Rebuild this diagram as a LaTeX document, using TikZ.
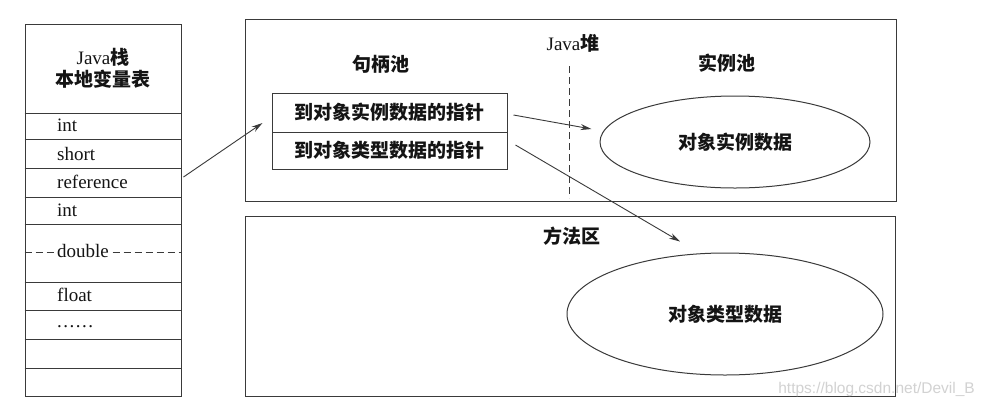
\documentclass[tikz,border=0pt]{standalone}
\usepackage{fontspec}
\setmainfont{Liberation Serif}
\newfontfamily\cjk{Noto Sans CJK SC}
\newfontfamily\wmfont{Liberation Sans}
\usetikzlibrary{arrows.meta,calc,shapes.geometric}
\definecolor{ln}{HTML}{3A3A3A}
\definecolor{tx}{HTML}{141414}
\definecolor{wm}{HTML}{D2D2D2}
\begin{document}
\begin{tikzpicture}[x=1pt,y=-1pt,
  box/.style={draw=ln,line width=1pt,rectangle,inner sep=0pt},
  oval/.style={draw=ln,line width=1pt,ellipse,inner sep=0pt,text=tx,font=\cjk\bfseries\fontsize{19}{22}\selectfont},
  lbl/.style={text=tx,inner sep=0pt,font=\fontsize{19}{22}\selectfont},
  zh/.style={text=tx,inner sep=0pt,font=\cjk\bfseries\fontsize{19}{22}\selectfont},
  rbox/.style={box,text=tx,font=\cjk\bfseries\fontsize{19}{22}\selectfont},
  arr/.style={draw=ln,line width=0.9pt,-{Stealth[length=11pt,width=6pt]}},
  sep/.style={draw=ln,line width=0.9pt},
  dsep/.style={sep,dash pattern=on 7pt off 4pt},
]
\useasboundingbox (0,0) rectangle (986,408);
\fill[white] (0,0) rectangle (986,408);

% ---- Java stack ----
\node[box,minimum width=156,minimum height=372] (stack) at (103,210) {};
\foreach \yy in {113,139,168,197,224,282,310,339,368}
  \draw[sep] (stack.west |- 0,\yy) -- (stack.east |- 0,\yy);
\draw[dsep] (stack.west |- 0,252) -- (stack.east |- 0,252);
\node[lbl] (h1) at (103,57) {Java{\cjk\bfseries 栈}};
\node[zh] (h2) at (103,79) {本地变量表};
\node[lbl,anchor=west] (l1) at (57,125) {int};
\node[lbl,anchor=west] (l2) at (57,154) {short};
\node[lbl,anchor=west] (ref) at (57,182) {reference};
\node[lbl,anchor=west] (l4) at (57,210) {int};
\node[lbl,anchor=west,fill=white,inner xsep=2pt] (l5) at (55,251) {double};
\node[lbl,anchor=west] (l6) at (57,295) {float};
\node[lbl,anchor=west] (l7) at (57,327) {.\kern1.5pt.\kern1.5pt.\kern1.5pt.\kern1.5pt.\kern1.5pt.};

% ---- Java heap ----
\node[box,minimum width=651,minimum height=182] (heap) at (570.5,110) {};
\draw[dsep] (569,66) -- (569,198);
\node[lbl] (jheap) at (573,43) {Java{\cjk\bfseries 堆}};
\node[zh] (hpool) at (381,64) {句柄池};
\node[zh] (ipool) at (727,63) {实例池};
\node[rbox,minimum width=235,minimum height=39] (r1) at (389.5,112.5) {到对象实例数据的指针};
\node[rbox,minimum width=235,minimum height=37] (r2) at (389.5,150.5) {到对象类型数据的指针};
\node[oval,minimum width=270,minimum height=92] (inst) at (735,142) {对象实例数据};

% ---- method area ----
\node[box,minimum width=650,minimum height=180] (meth) at (570,306) {};
\node[zh] (marea) at (572,236) {方法区};
\node[oval,minimum width=316,minimum height=122] (typ) at (725,314) {对象类型数据};

% ---- arrows ----
\draw[arr] ($(stack.east |- ref)+(2,-5)$) -- ($(r1.west)+(-9,10.5)$);
\draw[arr] ($(r1.east)+(6,2.5)$) -- ($(inst.west)+(-8,-13)$);
\draw[arr] ($(r2.east)+(8,-5.5)$) -- ($(typ.north)+(-45,-11)$);

% ---- watermark ----
\node[text=wm,font=\wmfont\fontsize{15.5}{16}\selectfont,anchor=east,inner sep=0pt] (wmk) at (975,389) {https://blog.csdn.net/Devil\_B};
\end{tikzpicture}
\end{document}
